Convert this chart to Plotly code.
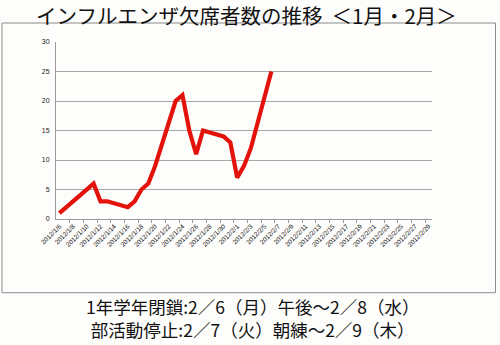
import datetime as dt
import plotly.graph_objects as go

# ---- data ----
dates = ["2012-01-06", "2012-01-11", "2012-01-12", "2012-01-13", "2012-01-16",
         "2012-01-17", "2012-01-18", "2012-01-19", "2012-01-20", "2012-01-23",
         "2012-01-24", "2012-01-25", "2012-01-26", "2012-01-27", "2012-01-30",
         "2012-01-31", "2012-02-01", "2012-02-02", "2012-02-03", "2012-02-06"]
absent = [1, 6, 3, 3, 2, 3, 5, 6, 9, 20, 21, 15, 11, 15, 14, 13, 7, 9, 12, 25]

axis_start = dt.date(2012, 1, 6)
axis_end = dt.date(2012, 2, 29)
label_dates = [axis_start + dt.timedelta(days=2 * i)
               for i in range(((axis_end - axis_start).days) // 2 + 1)]
tick_labels = [f"{d.year}/{d.month}/{d.day}" for d in label_dates]
y_ticks = [0, 5, 10, 15, 20, 25, 30]

title_text = "インフルエンザ欠席者数の推移  ＜1月・2月＞"
note1 = "1年学年閉鎖:2／6（月）午後～2／8（水）"
note2 = "部活動停止:2／7（火）朝練～2／9（木）"

# ---- layout geometry (pixels) ----
W, H = 500, 345
L, R, T, B = 56, 432, 42, 219
def px_x(p):
    return (p - L) / (R - L)
def px_y(p):
    return (B - p) / (B - T)

boundaries = [(d + dt.timedelta(days=1)).isoformat() + " 12:00" for d in label_dates[:-1]]
range_start = (axis_start - dt.timedelta(days=1)).isoformat() + " 12:00"
range_end = axis_end.isoformat() + " 12:00"

fig = go.Figure()
fig.add_trace(go.Scatter(
    x=dates, y=absent, mode="lines",
    line=dict(color="#e3120b", width=4.2),
    hoverinfo="x+y", showlegend=False,
))

fig.update_layout(
    width=W, height=H,
    margin=dict(l=L, r=W - R, t=T, b=H - B, pad=0),
    paper_bgcolor="#fdfdfb", plot_bgcolor="#fdfdfb",
    font=dict(family="Liberation Sans, Arial, sans-serif", color="#333"),
    xaxis=dict(
        type="date",
        range=[range_start, range_end],
        tickmode="array",
        tickvals=[d.isoformat() for d in label_dates],
        ticktext=tick_labels,
        tickangle=-45,
        tickfont=dict(size=6.5, color="#111"),
        ticks="",
        showgrid=False,
        showline=True, linecolor="#9a9a9a", linewidth=1,
        zeroline=False,
        minor=dict(tickmode="array", tickvals=boundaries, ticks="outside",
                   ticklen=3, tickcolor="#9a9a9a", tickwidth=1, showgrid=False),
        fixedrange=True,
    ),
    yaxis=dict(
        range=[0, 30],
        tickmode="array", tickvals=y_ticks,
        tickfont=dict(size=7, color="#222"),
        showgrid=True, gridcolor="#a8a8a8", gridwidth=1,
        showline=True, linecolor="#9a9a9a", linewidth=1,
        zeroline=False, ticks="", ticklabelstandoff=4,
        fixedrange=True,
    ),
    shapes=[dict(type="rect", xref="paper", yref="paper",
                 x0=px_x(2), x1=px_x(495.5), y0=px_y(292.7), y1=px_y(23),
                 line=dict(color="#8a8a8a", width=1), fillcolor="rgba(0,0,0,0)",
                 layer="below")],
    annotations=[
        dict(text=title_text, xref="paper", yref="paper",
             x=px_x(246), y=px_y(15), xanchor="center", yanchor="middle",
             showarrow=False,
             font=dict(family="Noto Sans CJK JP", size=20.5, color="#111")),
        dict(text=note1 + "<br>" + note2, xref="paper", yref="paper",
             x=px_x(252), y=px_y(318), xanchor="center", yanchor="middle",
             align="center", showarrow=False,
             font=dict(family="Noto Sans CJK JP", size=17.5, color="#111")),
    ],
)

fig.write_html("out.html")
